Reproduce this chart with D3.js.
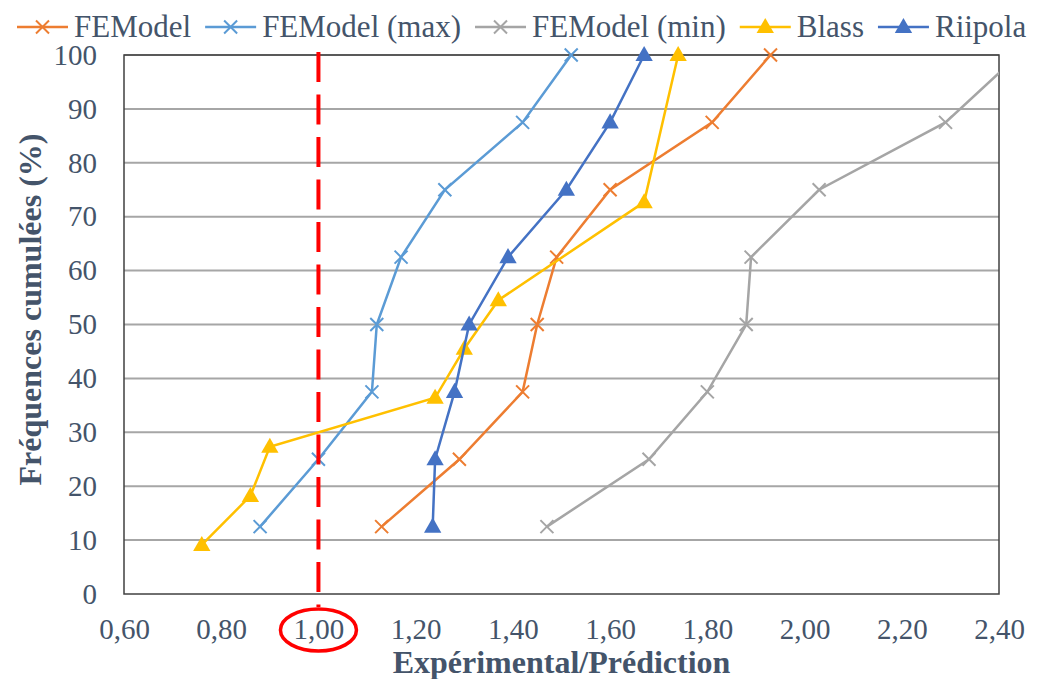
<!DOCTYPE html>
<html lang="fr">
<head>
<meta charset="UTF-8">
<title>Fréquences cumulées</title>
<script src="https://d3js.org/d3.v7.min.js"></script>
<style>
  body { margin: 0; background: #fff; }
  svg text { font-family: 'Liberation Serif', Tinos, 'DejaVu Serif', serif; fill: #44546a; }
</style>
</head>
<body>
<svg id="chart" width="1048" height="679"></svg>
<script>
// values
const seriesNames = ["FEModel", "FEModel (max)", "FEModel (min)", "Blass", "Riipola"];
const seriesColors = ["#ed7d31", "#5b9bd5", "#a5a5a5", "#ffc000", "#4472c4"];
const seriesMarkers = ["cross", "cross", "cross", "triangle", "triangle"];

const freq8 = [12.5, 25, 37.5, 50, 62.5, 75, 87.5, 100];
const freqBlass = [9.1, 18.2, 27.3, 36.4, 45.5, 54.5, 72.7, 100];

const feModelX    = [1.13, 1.29, 1.42, 1.45, 1.49, 1.60, 1.81, 1.93];
const feModelMaxX = [0.88, 1.00, 1.11, 1.12, 1.17, 1.26, 1.42, 1.52];
const feModelMinX = [1.47, 1.68, 1.80, 1.88, 1.89, 2.03, 2.29, 2.44];
const blassX      = [0.76, 0.86, 0.90, 1.24, 1.30, 1.37, 1.67, 1.74];
const riipolaX    = [1.235, 1.24, 1.28, 1.31, 1.39, 1.51, 1.60, 1.67];

const xTicks = [0.6, 0.8, 1.0, 1.2, 1.4, 1.6, 1.8, 2.0, 2.2, 2.4];
const yTicks = [0, 10, 20, 30, 40, 50, 60, 70, 80, 90, 100];
const refValue = 1.00;

const seriesX = [feModelX, feModelMaxX, feModelMinX, blassX, riipolaX];
const seriesY = [freq8, freq8, freq8, freqBlass, freq8];

const serif = "'Liberation Serif', Tinos, 'DejaVu Serif', serif";
const svg = d3.select("#chart");
const pLeft = 124, pRight = 999, pTop = 55, pBottom = 594;

const x = d3.scaleLinear().domain([0.6, 2.4]).range([pLeft, pRight]);
const y = d3.scaleLinear().domain([0, 100]).range([pBottom, pTop]);
const fmt = d => d3.format(".2f")(d).replace(".", ",");

// gridlines
svg.append("g").selectAll("line")
  .data(yTicks.slice(1)).enter().append("line")
    .attr("x1", pLeft).attr("x2", pRight)
    .attr("y1", d => y(d)).attr("y2", d => y(d))
    .attr("stroke", "#a6a6a6").attr("stroke-width", 2);

// plot border
svg.append("rect")
  .attr("x", pLeft).attr("y", pTop)
  .attr("width", pRight - pLeft).attr("height", pBottom - pTop)
  .attr("fill", "none").attr("stroke", "#404040").attr("stroke-width", 1.5);

// axes (labels only)
const yAxis = d3.axisLeft(y).tickValues(yTicks).tickSize(0).tickPadding(27);
const yG = svg.append("g").attr("transform", `translate(${pLeft},0)`).call(yAxis);
const xAxis = d3.axisBottom(x).tickValues(xTicks).tickFormat(fmt).tickSize(0).tickPadding(24);
const xG = svg.append("g").attr("transform", `translate(0,${pBottom})`).call(xAxis);
[yG, xG].forEach(g => {
  g.select(".domain").remove();
  g.attr("font-family", serif).attr("font-size", 29);
  g.selectAll("text").attr("fill", "#44546a");
});

svg.append("defs").append("clipPath").attr("id", "plotClip")
  .append("rect").attr("x", pLeft).attr("y", pTop - 12)
  .attr("width", pRight - pLeft).attr("height", pBottom - pTop + 24);

const line = d3.line().x(d => x(d[0])).y(d => y(d[1]));

function drawMarker(g, kind, color, cx, cy) {
  if (kind === "cross") {
    const s = 6.5;
    g.append("path")
      .attr("d", `M${cx - s},${cy - s}L${cx + s},${cy + s}M${cx - s},${cy + s}L${cx + s},${cy - s}`)
      .attr("stroke", color).attr("stroke-width", 2).attr("fill", "none");
  } else {
    g.append("path")
      .attr("d", d3.symbol().type(d3.symbolTriangle).size(130)())
      .attr("transform", `translate(${cx},${cy + 1})`)
      .attr("fill", color);
  }
}

const plot = svg.append("g").attr("clip-path", "url(#plotClip)");
seriesNames.forEach((name, i) => {
  const pts = seriesX[i].map((v, j) => [v, seriesY[i][j]]);
  const g = plot.append("g");
  g.append("path").datum(pts).attr("d", line)
    .attr("fill", "none").attr("stroke", seriesColors[i]).attr("stroke-width", 2.5);
  pts.filter(p => p[0] <= 2.4).forEach(p => drawMarker(g, seriesMarkers[i], seriesColors[i], x(p[0]), y(p[1])));
});

// red dashed reference line and circle round 1,00
svg.append("line")
  .attr("x1", x(refValue)).attr("x2", x(refValue))
  .attr("y1", pTop - 3).attr("y2", pBottom + 13)
  .attr("stroke", "#ff0000").attr("stroke-width", 4)
  .attr("stroke-dasharray", "30,12.5");
svg.append("ellipse")
  .attr("cx", x(refValue)).attr("cy", 630).attr("rx", 38).attr("ry", 21)
  .attr("fill", "none").attr("stroke", "#ff0000").attr("stroke-width", 3.5);

// axis titles
svg.append("text")
  .attr("x", (pLeft + pRight) / 2).attr("y", 673)
  .attr("text-anchor", "middle")
  .attr("font-family", serif)
  .style("font-size", "32px").style("font-weight", "bold")
  .text("Expérimental/Prédiction");
svg.append("text")
  .attr("transform", `translate(41,${(pTop + pBottom) / 2 - 15}) rotate(-90)`)
  .attr("text-anchor", "middle")
  .attr("font-family", serif)
  .style("font-size", "32px").style("font-weight", "bold")
  .text("Fréquences cumulées (%)");

// legend
const legend = svg.append("g");
let lx = 17;
const ly = 27;
seriesNames.forEach((name, i) => {
  legend.append("line")
    .attr("x1", lx).attr("x2", lx + 51).attr("y1", ly).attr("y2", ly)
    .attr("stroke", seriesColors[i]).attr("stroke-width", 2.5);
  drawMarker(legend, seriesMarkers[i], seriesColors[i], lx + 25.5, ly);
  const t = legend.append("text")
    .attr("x", lx + 57).attr("y", ly + 10)
    .attr("font-family", serif)
    .style("font-size", "31px")
    .text(name);
  lx += 57 + t.node().getComputedTextLength() + 14;
});
</script>
</body>
</html>
